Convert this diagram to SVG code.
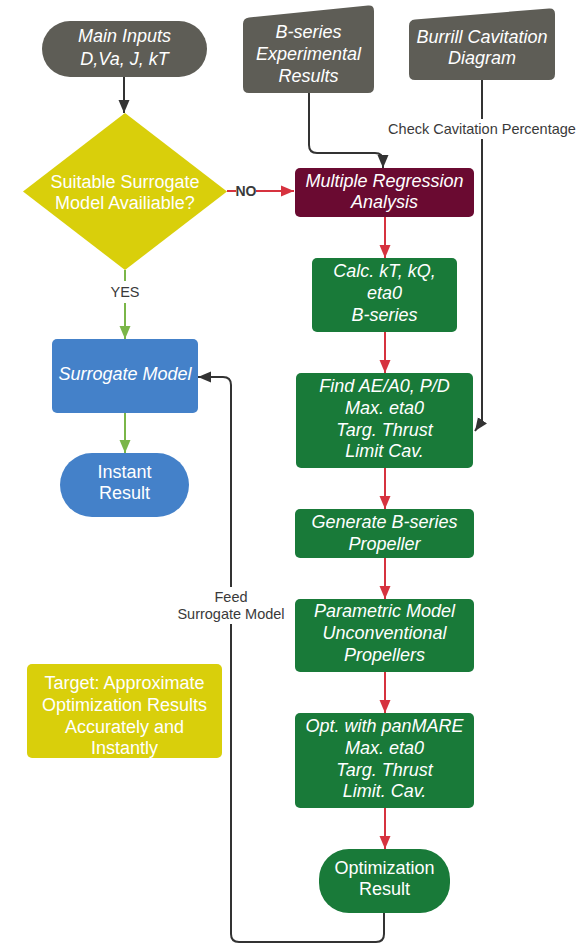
<svg xmlns="http://www.w3.org/2000/svg" width="580" height="944" viewBox="0 0 580 944">
<defs>
<style>
.t{font-family:"Liberation Sans",Arial,sans-serif;font-size:18px;fill:#ffffff;text-anchor:middle}
.i{font-style:italic}
.lbl{font-family:"Liberation Sans",Arial,sans-serif;font-size:14.5px;fill:#3a3a3a;text-anchor:middle}
.gray{fill:#5e5d56}
.yel{fill:#d9cf0b}
.grn{fill:#197a39}
.blu{fill:#4481c9}
.mar{fill:#6a0a31}
.c{fill:none;stroke-width:2}
.ck{stroke:#333333}
.cr{stroke:#d6323f}
.cg{stroke:#7ab648}
</style>
<marker id="ak" markerUnits="userSpaceOnUse" markerWidth="14" markerHeight="12" refX="13" refY="6" orient="auto"><path d="M0,0.5 L13,6 L0,11.5 z" fill="#333333"/></marker>
<marker id="ar" markerUnits="userSpaceOnUse" markerWidth="14" markerHeight="12" refX="13" refY="6" orient="auto"><path d="M0,0.5 L13,6 L0,11.5 z" fill="#d6323f"/></marker>
<marker id="ag" markerUnits="userSpaceOnUse" markerWidth="14" markerHeight="12" refX="13" refY="6" orient="auto"><path d="M0,0.5 L13,6 L0,11.5 z" fill="#7ab648"/></marker>
</defs>
<rect width="580" height="944" fill="#ffffff"/>

<g id="connectors">
<path class="c ck" d="M124,77 V113" marker-end="url(#ak)"/>
<path class="c cr" d="M227,191 H236"/>
<path class="c cr" d="M256,191 H294" marker-end="url(#ar)"/>
<path class="c cg" d="M125,270 V281"/>
<path class="c cg" d="M125,303 V339" marker-end="url(#ag)"/>
<path class="c cg" d="M125,413 V453" marker-end="url(#ag)"/>
<path class="c ck" d="M309,93 V145 Q309,153 317,153 H375 Q383,153 383,161 V168" marker-end="url(#ak)"/>
<path class="c ck" d="M482,80 V421 L475,431" marker-end="url(#ak)"/>
<path class="c cr" d="M385,217 V258" marker-end="url(#ar)"/>
<path class="c cr" d="M385,332 V373" marker-end="url(#ar)"/>
<path class="c cr" d="M385,468 V509" marker-end="url(#ar)"/>
<path class="c cr" d="M385,558 V599" marker-end="url(#ar)"/>
<path class="c cr" d="M385,672 V713" marker-end="url(#ar)"/>
<path class="c cr" d="M385,808 V849" marker-end="url(#ar)"/>
<path class="c ck" d="M384,913 V934 Q384,942 376,942 H239 Q231,942 231,934 V385 Q231,377 223,377 H198" marker-end="url(#ak)"/>
<text class="lbl" x="246" y="196" style="font-weight:bold;font-size:14px">NO</text>
<text class="lbl" x="125" y="297">YES</text>
<rect x="386" y="119" width="192" height="20" fill="#ffffff"/>
<text class="lbl" x="482" y="134">Check Cavitation Percentage</text>
<rect x="176" y="587" width="110" height="37" fill="#ffffff"/>
<text class="lbl" x="231" y="602">Feed</text>
<text class="lbl" x="231" y="619">Surrogate Model</text>
</g>

<g id="main-inputs">
<rect class="gray" x="42" y="21" width="165" height="56" rx="28"/>
<text class="t i" x="124.5" y="42">Main Inputs</text>
<text class="t i" x="124.5" y="65">D,Va, J, kT</text>
</g>

<g id="decision">
<path class="yel" d="M125,113 L227,191.5 L125,270 L23,191.5 Z"/>
<text class="t" x="125" y="188">Suitable Surrogate</text>
<text class="t" x="125" y="209">Model Availiable?</text>
</g>

<g id="surrogate-model">
<rect class="blu" x="52" y="339" width="146" height="74" rx="5"/>
<text class="t i" x="125" y="380">Surrogate Model</text>
</g>

<g id="instant-result">
<rect class="blu" x="60" y="453" width="129" height="64" rx="32"/>
<text class="t" x="124.5" y="478">Instant</text>
<text class="t" x="124.5" y="499">Result</text>
</g>

<g id="target">
<rect class="yel" x="27" y="664" width="195" height="94" rx="5"/>
<text class="t" x="124.5" y="689">Target: Approximate</text>
<text class="t" x="124.5" y="711">Optimization Results</text>
<text class="t" x="124.5" y="733">Accurately and</text>
<text class="t" x="124.5" y="754">Instantly</text>
</g>

<g id="b-series-results">
<path class="gray" d="M249,17.4 L368,5.6 Q374,5 374,11 L374,87 Q374,93 368,93 L249,93 Q243,93 243,87 L243,24 Q243,18 249,17.4 Z"/>
<text class="t i" x="308.5" y="38">B-series</text>
<text class="t i" x="308.5" y="60">Experimental</text>
<text class="t i" x="308.5" y="82">Results</text>
</g>

<g id="burrill">
<path class="gray" d="M415,19.5 L549,8.5 Q555,8 555,14 L555,74 Q555,80 549,80 L415,80 Q409,80 409,74 L409,26 Q409,20 415,19.5 Z"/>
<text class="t i" x="482" y="43">Burrill Cavitation</text>
<text class="t i" x="482" y="64">Diagram</text>
</g>

<g id="regression">
<rect class="mar" x="295" y="168" width="179" height="49" rx="5"/>
<text class="t i" x="384.5" y="187">Multiple Regression</text>
<text class="t i" x="384.5" y="208">Analysis</text>
</g>

<g id="calc">
<rect class="grn" x="312" y="258" width="145" height="74" rx="5"/>
<text class="t i" x="384.5" y="277">Calc. kT, kQ,</text>
<text class="t i" x="384.5" y="299">eta0</text>
<text class="t i" x="384.5" y="321">B-series</text>
</g>

<g id="find">
<rect class="grn" x="296" y="373" width="177" height="95" rx="5"/>
<text class="t i" x="384.5" y="392">Find AE/A0, P/D</text>
<text class="t i" x="384.5" y="414">Max. eta0</text>
<text class="t i" x="384.5" y="436">Targ. Thrust</text>
<text class="t i" x="384.5" y="457">Limit Cav.</text>
</g>

<g id="generate">
<rect class="grn" x="295" y="509" width="179" height="49" rx="5"/>
<text class="t i" x="384.5" y="528">Generate B-series</text>
<text class="t i" x="384.5" y="550">Propeller</text>
</g>

<g id="parametric">
<rect class="grn" x="295" y="599" width="179" height="73" rx="5"/>
<text class="t i" x="384.5" y="617">Parametric Model</text>
<text class="t i" x="384.5" y="639">Unconventional</text>
<text class="t i" x="384.5" y="661">Propellers</text>
</g>

<g id="optimize">
<rect class="grn" x="295" y="713" width="179" height="95" rx="5"/>
<text class="t i" x="384.5" y="732">Opt. with panMARE</text>
<text class="t i" x="384.5" y="754">Max. eta0</text>
<text class="t i" x="384.5" y="776">Targ. Thrust</text>
<text class="t i" x="384.5" y="797">Limit. Cav.</text>
</g>

<g id="optimization-result">
<rect class="grn" x="319" y="849" width="131" height="64" rx="30"/>
<text class="t" x="384.5" y="874">Optimization</text>
<text class="t" x="384.5" y="895">Result</text>
</g>
</svg>
